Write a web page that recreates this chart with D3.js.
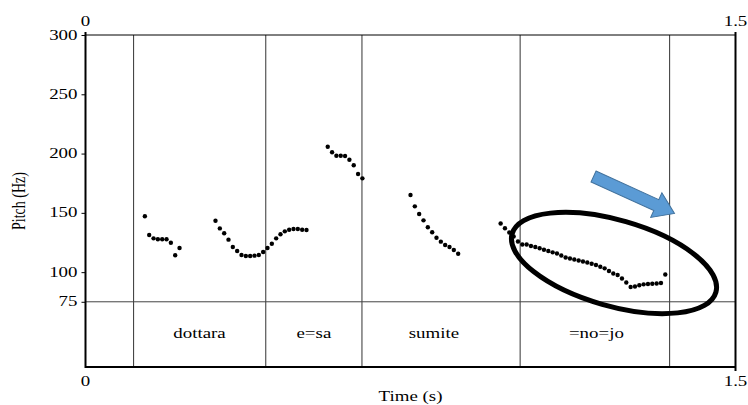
<!DOCTYPE html>
<html>
<head>
<meta charset="utf-8">
<script src="https://cdn.jsdelivr.net/npm/d3@7"></script>
<style>
  body { margin: 0; background: #fff; }
  svg text { font-family: 'Liberation Serif', 'DejaVu Serif', serif !important; fill: #000; }
</style>
</head>
<body>
<svg id="chart" width="748" height="405" font-family="Liberation Serif"></svg>
<script>
"use strict";

// time axis (s) and pitch axis (Hz)
var timeRange = [0, 1.5];
var pitchRange = [20, 300];
var pitchTicks = [75, 100, 150, 200, 250, 300];
var floorPitch = 75;

// interval tier boundaries and labels
var boundaries = [0.111, 0.416, 0.638, 1.003, 1.348];
var labels = ["dottara", "e=sa", "sumite", "=no=jo"];
var labelTimes = [0.263, 0.527, 0.804, 1.179];

// pitch track, one sample every 10 ms, split into voiced stretches
var seg1Start = 0.137;
var seg1 = [147.1, 131.3, 128.5, 127.7, 127.7, 127.7, 124.8, 114.2, 120.4];
var seg2Start = 0.300;
var seg2 = [143.4, 136.9, 132.8, 127.4, 121.2, 117.8, 114.5, 113.6, 113.6, 113.9, 114.5,
            117.0, 120.4, 124.0, 128.5, 131.9, 134.4, 135.8, 136.4, 136.4, 135.8, 135.5];
var seg3Start = 0.559;
var seg3 = [205.8, 201.1, 198.2, 198.2, 198.0, 194.8, 190.1, 182.8, 179.1];
var seg4Start = 0.750;
var seg4 = [165.1, 155.5, 149.0, 143.7, 137.8, 133.6, 129.0, 125.7, 122.9, 121.2, 118.7, 115.5];
var seg5Start = 0.958;
var seg5 = [141.0, 137.0, 133.4, 130.1, 125.8, 123.3, 123.3, 122.0, 121.2, 120.1, 118.9,
            117.8, 116.7, 115.7, 114.0, 112.3, 111.5, 110.7, 109.8, 109.0, 108.1, 107.1,
            106.0, 104.6, 103.2, 101.0, 98.8, 97.6, 94.6, 91.3, 87.5, 87.9, 88.9, 89.7,
            90.0, 90.2, 90.4, 90.8, 98.0];

var segments = [[seg1Start, seg1], [seg2Start, seg2], [seg3Start, seg3], [seg4Start, seg4], [seg5Start, seg5]];
var points = [];
segments.forEach(function(s){
    s[1].forEach(function(v, i){ points.push({t: s[0] + i * 0.01, f: v}); });
});

var svg = d3.select("#chart");
var plotLeft = 85.5, plotRight = 735.5, plotTop = 35, plotBottom = 367;
var stretch = 1.35, fontSize = 14;

var x = d3.scaleLinear().domain(timeRange).range([plotLeft, plotRight]);
var y = d3.scaleLinear().domain(pitchRange).range([plotBottom, plotTop]);

// the original picture is stretched sideways, so text is too
var addText = function(g, px, py, str, anchor){
    return g.append("text")
        .attr("transform", "translate(" + px + "," + py + ") scale(" + stretch + ",1)")
        .attr("text-anchor", anchor || "middle")
        .style("font-size", fontSize + "px")
        .text(str);
};

// boundaries
svg.append("g").selectAll("line").data(boundaries).enter().append("line")
    .attr("x1", d => x(d)).attr("x2", d => x(d))
    .attr("y1", plotTop).attr("y2", plotBottom)
    .attr("stroke", "#333").attr("stroke-width", 1);

// 75 Hz floor line
svg.append("line")
    .attr("x1", plotLeft).attr("x2", plotRight)
    .attr("y1", y(floorPitch)).attr("y2", y(floorPitch))
    .attr("stroke", "#444").attr("stroke-width", 1);

// frame
svg.append("line").attr("x1", plotLeft).attr("x2", plotRight).attr("y1", plotTop).attr("y2", plotTop)
    .attr("stroke", "#000").attr("stroke-width", 1);
svg.append("line").attr("x1", plotLeft).attr("x2", plotRight).attr("y1", plotBottom).attr("y2", plotBottom)
    .attr("stroke", "#000").attr("stroke-width", 2);
svg.append("line").attr("x1", plotLeft).attr("x2", plotLeft).attr("y1", plotTop - 3).attr("y2", plotBottom + 1)
    .attr("stroke", "#000").attr("stroke-width", 2);
svg.append("line").attr("x1", plotRight).attr("x2", plotRight).attr("y1", plotTop - 3).attr("y2", plotBottom + 4)
    .attr("stroke", "#000").attr("stroke-width", 2);

// left axis: ticks from d3, labels drawn stretched
var yAxis = d3.axisLeft(y).tickValues(pitchTicks).tickSize(4).tickFormat("");
var gy = svg.append("g").attr("transform", "translate(" + plotLeft + ",0)").call(yAxis);
gy.attr("font-family", null);
gy.select(".domain").remove();
gy.selectAll("line").attr("stroke", "#000");
var gyl = svg.append("g");
pitchTicks.forEach(function(v){ addText(gyl, plotLeft - 8, y(v) + 4.5, v, "end"); });

// time labels top and bottom
var gt = svg.append("g");
timeRange.forEach(function(v){
    addText(gt, x(v), 26, v);
    addText(gt, x(v), 386, v);
});

// tier labels
var gl = svg.append("g");
labels.forEach(function(s, i){ addText(gl, x(labelTimes[i]), 338, s); });

// axis titles
addText(svg, (plotLeft + plotRight) / 2, 401, "Time (s)");
svg.append("text").attr("transform", "translate(25,201) rotate(-90) scale(1," + stretch + ")")
    .attr("text-anchor", "middle").style("font-size", fontSize + "px").text("Pitch (Hz)");

// pitch points
svg.append("g").selectAll("circle").data(points).enter().append("circle")
    .attr("cx", d => x(d.t)).attr("cy", d => y(d.f))
    .attr("r", 2.2).attr("fill", "#000");

// annotation: ellipse around the final stretch
svg.append("ellipse")
    .attr("transform", "translate(614,263) rotate(16)")
    .attr("rx", 106).attr("ry", 43)
    .attr("fill", "none").attr("stroke", "#000").attr("stroke-width", 5);

// annotation: block arrow
var L = 89, h = 20, sw = 6, hw = 13.5;
var arrow = [[0, -sw], [L - h, -sw], [L - h, -hw], [L, 0], [L - h, hw], [L - h, sw], [0, sw]];
svg.append("path")
    .attr("transform", "translate(593.5,176.5) rotate(24.5)")
    .attr("d", d3.line()(arrow) + "Z")
    .attr("fill", "#5b9bd5").attr("stroke", "#41719c").attr("stroke-width", 1);
</script>
</body>
</html>
